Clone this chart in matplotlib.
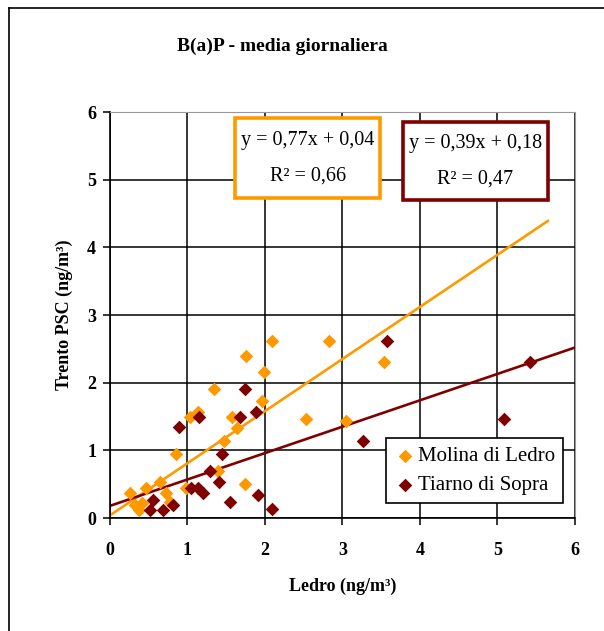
import numpy as np
import matplotlib.pyplot as plt
from matplotlib.patches import Rectangle
from matplotlib.lines import Line2D

# Molina di Ledro (orange)
molina_x = [2.09, 2.83, 1.76, 3.53, 1.99, 1.34, 1.96, 1.13, 1.03, 1.58, 1.64, 1.47, 2.53, 3.04,
            0.85, 1.40, 1.74, 0.98, 0.26, 0.46, 0.65, 0.72, 0.77, 0.32, 0.41, 0.37]
molina_y = [2.61, 2.61, 2.39, 2.31, 2.16, 1.90, 1.73, 1.57, 1.50, 1.49, 1.33, 1.14, 1.46, 1.44,
            0.95, 0.69, 0.50, 0.45, 0.37, 0.44, 0.54, 0.37, 0.24, 0.19, 0.22, 0.12]

# Tiarno di Sopra (dark red)
tiarno_x = [3.57, 5.42, 1.74, 1.89, 1.15, 1.68, 0.89, 5.08, 3.27, 1.45, 1.29, 1.41, 1.05, 1.14,
            1.20, 1.91, 1.55, 2.09, 0.82, 0.56, 0.52, 0.69]
tiarno_y = [2.61, 2.31, 1.90, 1.57, 1.49, 1.49, 1.34, 1.46, 1.14, 0.95, 0.69, 0.54, 0.44, 0.44,
            0.37, 0.34, 0.24, 0.13, 0.20, 0.27, 0.12, 0.12]

# trendlines (slope, intercept, x end)
molina_fit = (0.77, 0.04, 5.65)
tiarno_fit = (0.39, 0.18, 6.0)
molina_eq = ["y = 0,77x + 0,04", "R² = 0,66"]
tiarno_eq = ["y = 0,39x + 0,18", "R² = 0,47"]

orange = '#FF9900'
darkred = '#800000'

plt.rcParams['font.family'] = ['Liberation Serif', 'DejaVu Serif']

fig = plt.figure(figsize=(6.04, 6.31), dpi=100)
ax = fig.add_axes([0.182, 0.179, 0.770, 0.6435])

for fit, col in [(molina_fit, orange), (tiarno_fit, darkred)]:
    xs = np.array([0, fit[2]])
    ax.plot(xs, fit[0] * xs + fit[1], color=col, lw=1.9, zorder=2)

ax.scatter(molina_x, molina_y, marker='D', s=48, color=orange, lw=0, zorder=3,
           label='Molina di Ledro')
ax.scatter(tiarno_x, tiarno_y, marker='D', s=48, color=darkred, lw=0, zorder=3,
           label='Tiarno di Sopra')

ax.set_xlim(0, 6)
ax.set_ylim(0, 6)
ax.set_xticks(range(7))
ax.set_yticks(range(7))
ax.grid(True, color='black', lw=1.1)
ax.set_axisbelow(True)
for s in ['top', 'right']:
    ax.spines[s].set_color('#999999')
for s in ['left', 'bottom']:
    ax.spines[s].set_color('black')
    ax.spines[s].set_linewidth(1.2)
ax.tick_params(direction='out', length=5, width=1.1, labelsize=13)
ax.tick_params(axis='x', pad=12)
ax.tick_params(axis='y', pad=5)
for lab in ax.get_xticklabels() + ax.get_yticklabels():
    lab.set_fontweight('bold')

ax.set_xlabel('Ledro (ng/m³)', fontsize=13, fontweight='bold', labelpad=14)
ax.set_ylabel('Trento PSC (ng/m³)', fontsize=13, fontweight='bold', labelpad=10)
fig.text(0.467, 0.926, 'B(a)P - media giornaliera', fontsize=14, fontweight='bold',
         ha='center', va='center')

leg = ax.legend(loc='lower right', bbox_to_anchor=(0.975, 0.036), fontsize=15,
                frameon=True, fancybox=False, edgecolor='black', framealpha=1,
                handletextpad=0.05, borderpad=0.4, labelspacing=0.45, handlelength=1.1,
                borderaxespad=0, markerscale=1.0)
leg.get_frame().set_linewidth(1.2)

# equation boxes
for (x0, y0, w, h), col, lines in [((0.269, 0.788, 0.312, 0.197), orange, molina_eq),
                                   ((0.630, 0.783, 0.312, 0.192), darkred, tiarno_eq)]:
    ax.add_patch(Rectangle((x0, y0), w, h, transform=ax.transAxes, facecolor='white',
                           edgecolor=col, lw=2.6, zorder=5, clip_on=False))
    ax.text(x0 + w / 2, y0 + h * 0.72, lines[0], transform=ax.transAxes, ha='center',
            va='center', fontsize=14.5, zorder=6)
    ax.text(x0 + w / 2, y0 + h * 0.27, lines[1], transform=ax.transAxes, ha='center',
            va='center', fontsize=14.5, zorder=6)

# outer frame
fig.add_artist(Line2D([9 / 604, 9 / 604], [0, 1 - 8 / 631], color='black', lw=1.2))
fig.add_artist(Line2D([9 / 604, 1], [1 - 8 / 631, 1 - 8 / 631], color='black', lw=1.2))

fig.savefig('out.png', dpi=100)
